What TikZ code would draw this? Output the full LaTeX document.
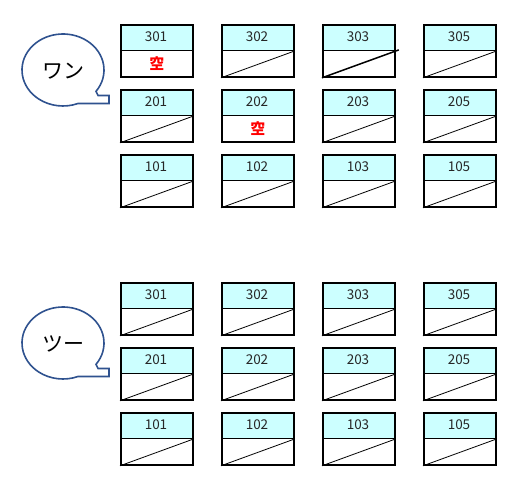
\documentclass[tikz,border=0pt]{standalone}
\usepackage{fontspec}
\usetikzlibrary{calc}
\setmainfont{Noto Sans CJK JP}
\definecolor{hdr}{HTML}{CCFFFF}
\definecolor{bub}{HTML}{2F528F}
\definecolor{kred}{HTML}{FF0000}
\begin{document}
\begin{tikzpicture}[x=1pt,y=-1pt,
  room/.style={draw=black,line width=1.8pt,minimum width=72pt,minimum height=52pt,inner sep=0pt},
  hdrtxt/.style={font=\fontsize{13.5}{15}\selectfont,text=black!85},
  emptytxt/.style={font=\fontsize{15}{17}\selectfont\bfseries,text=kred},
  diag/.style={line width=0.8pt},
  bubble/.style={draw=bub,line width=1.6pt,fill=white},
  bubtxt/.style={font=\fontsize{21}{24}\selectfont}]
\useasboundingbox (0,0) rectangle (531,495);
% callouts
\coordinate (c1) at (63,70);
\coordinate (c2) at (63,343);
\draw[bubble] (c1) ++(36.4:41 and 36) arc[start angle=36.4,end angle=-291.5,x radius=41,y radius=36]
    -- ++(31,0) -- ++(0,-8) -- ++(-11,0) -- cycle;
\node[bubtxt] (t1) at (63,71) {ワン};
\draw[bubble] (c2) ++(36.4:41 and 36) arc[start angle=36.4,end angle=-291.5,x radius=41,y radius=36]
    -- ++(31,0) -- ++(0,-8) -- ++(-11,0) -- cycle;
\node[bubtxt] (t2) at (63,344) {ツー};
% rooms
\foreach \g/\yo in {a/0,b/258}{
 \foreach \r/\fl in {0/3,1/2,2/1}{
  \foreach \c/\nm in {0/01,1/02,2/03,3/05}{
   \pgfmathsetmacro\X{120+101*\c}
   \pgfmathsetmacro\Y{24+65*\r+\yo}
   \fill[hdr] (\X,\Y) rectangle ++(72,26);
   \draw[line width=0.8pt] (\X,\Y+26) -- ++(72,0);
   \node[room,anchor=north west] (\g\fl\nm) at (\X,\Y) {};
   \node[hdrtxt] (\g\fl\nm h) at (\X+36,\Y+13) {\fl\nm};
  }}}
% empty marks
\node[emptytxt] (e1) at ($(a301.center)+(0,13)$) {空};
\node[emptytxt] (e2) at ($(a202.center)+(0,13)$) {空};
% diagonals
\foreach \n in {a302,a305,a201,a203,a205,a101,a102,a103,a105,
  b301,b302,b303,b305,b201,b202,b203,b205,b101,b102,b103,b105}{
  \draw[diag] (\n.south west) -- (\n.east);
}
\draw[line width=1.5pt] (a303.south west) -- ($(a303.east)+(3,-1)$);
\end{tikzpicture}
\end{document}
